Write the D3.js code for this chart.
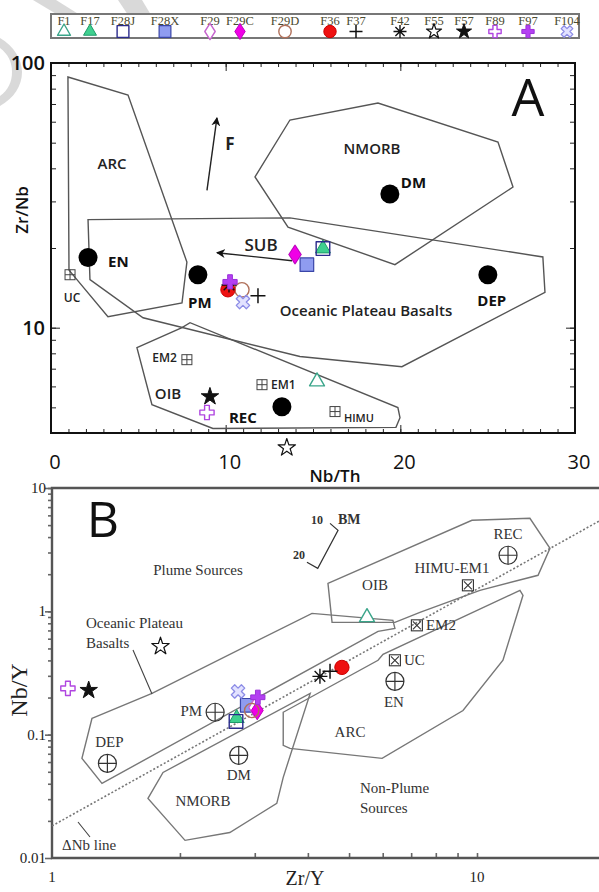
<!DOCTYPE html>
<html>
<head>
<meta charset="utf-8">
<script src="https://cdn.jsdelivr.net/npm/d3@7"></script>
<style>
  body { margin: 0; background: #fff; }
  svg { display: block; }
  .sans { font-family: "Open Sans", "Liberation Sans", sans-serif; }
  .serif { font-family: "Liberation Serif", "DejaVu Serif", serif; }
</style>
</head>
<body>
<svg id="chart" width="599" height="892"></svg>
<script>
// ---------------- sample data ----------------
const sampleIds = ["F1","F17","F28J","F28X","F29","F29C","F29D","F36","F37","F42","F55","F57","F89","F97","F104"];
// Panel A: Nb/Th vs Zr/Nb
const nbTh = [15.23, 15.57, 15.57, 14.65, 13.97, 13.97, 10.93, 10.13, 11.85, 10.19, 13.5, 9.10, 8.93, 10.25, 10.99];
const zrNb = [6.26, 19.9, 19.9, 17.3, 18.9, 18.9, 13.9, 13.9, 13.2, 14.5, 3.52, 5.49, 4.78, 14.9, 12.5];
// Panel B: Zr/Y vs Nb/Y
const zrY = [5.51, 2.72, 2.71, 2.88, 3.0, 3.04, 2.95, 4.81, 4.51, 4.27, 1.80, 1.22, 1.09, 3.05, 2.74];
const nbY = [0.894, 0.136, 0.128, 0.173, 0.166, 0.157, 0.157, 0.351, 0.326, 0.297, 0.520, 0.229, 0.2375, 0.201, 0.224];

// mantle / crust reservoirs, panel A
const resA = ["EN","PM","DM","DEP","REC"];
const resANbTh = [2.12, 8.41, 19.40, 25.01, 13.22];
const resAZrNb = [18.4, 15.85, 32.0, 15.85, 5.03];
const compA = ["UC","EM2","EM1","HIMU"];
const compANbTh = [1.09, 7.78, 12.08, 16.26];
const compAZrNb = [15.85, 7.57, 6.09, 4.82];

// reservoirs, panel B
const resB = ["PM","DEP","DM","EN","REC"];
const resBZrY = [2.42, 1.35, 2.75, 6.41, 11.83];
const resBNbY = [0.152, 0.0585, 0.068, 0.2706, 2.85];
const compB = ["UC","EM2","HIMU-EM1"];
const compBZrY = [6.41, 7.22, 9.52];
const compBNbY = [0.401, 0.77, 1.625];

// field outlines, panel A  [Nb/Th, Zr/Nb]
const fieldArcA = [[0.97,88.5],[4.41,75.7],[7.78,17.7],[7.50,12.4],[3.26,11.0],[1.03,16.5]];
const fieldOpbA = [[2.12,25.6],[13.68,26.0],[28.16,18.5],[28.28,13.6],[20.09,7.12],[14.25,7.78],[5.27,10.9],[2.23,15.2]];
const fieldOibA = [[4.92,8.4],[7.50,10.0],[7.96,10.44],[19.86,4.99],[19.98,4.57],[19.75,4.2],[9.27,4.16],[5.78,5.12]];
const fieldMorbA = [[11.68,37.1],[13.68,60.9],[18.72,70.6],[25.59,50.3],[26.45,34.0],[19.69,17.3],[13.57,24.0]];
const arrowF = [[8.93,33.0],[9.50,62.0]];
const arrowSub = [[13.8,17.9],[9.5,19.2]];

// field outlines, panel B  [Zr/Y, Nb/Y]
const fieldOpbB = [[1.242,0.1356],[1.719,0.2163],[4.09,0.963],[6.34,0.845],[6.41,0.728],[5.85,0.688],[1.311,0.0403],[1.176,0.0643]];
const fieldOibB = [[4.46,1.687],[9.73,5.47],[13.32,5.68],[14.85,3.24],[13.92,1.96],[10.16,1.48],[7.34,0.981],[6.41,0.814],[4.56,0.814]];
const fieldArcB = [[3.50,0.152],[5.85,0.401],[6.01,0.448],[12.62,1.48],[12.83,1.35],[11.51,0.401],[9.27,0.157],[5.98,0.0643],[3.63,0.0774],[3.50,0.0819]];
const fieldMorbB = [[1.682,0.0304],[1.825,0.0494],[4.05,0.2163],[3.50,0.0451],[3.38,0.0277],[2.62,0.0161],[2.056,0.0139]];
const nbLine = [[1, 0.0182],[20, 5.73]];
const bmVector = [[4.51,5.17],[4.71,4.54],[4.22,2.23],[3.98,2.50]];

// ---------------- marker styles ----------------
const styles = {
  F1:  {shape:"triangle", fill:"#ffffff", stroke:"#3aa58a", sw:1.4},
  F17: {shape:"triangle", fill:"#3fd08f", stroke:"#1f9a6a", sw:1},
  F28J:{shape:"square",   fill:"none",    stroke:"#2b2b8c", sw:1.4},
  F28X:{shape:"square",   fill:"#8f9cf0", stroke:"#3a46a8", sw:1.2},
  F29: {shape:"diamond",  fill:"#ffffff", stroke:"#c765cf", sw:1.4},
  F29C:{shape:"diamond",  fill:"#f000e6", stroke:"#c000c0", sw:1},
  F29D:{shape:"circle",   fill:"none",    stroke:"#b0705a", sw:1.4},
  F36: {shape:"circle",   fill:"#ee1111", stroke:"#cc0000", sw:1},
  F37: {shape:"plus",     fill:"none",    stroke:"#111", sw:1.5},
  F42: {shape:"asterisk", fill:"none",    stroke:"#111", sw:1.4},
  F55: {shape:"star",     fill:"#ffffff", stroke:"#111", sw:1.2},
  F57: {shape:"star",     fill:"#111",    stroke:"#111", sw:1},
  F89: {shape:"cross",    fill:"#ffffff", stroke:"#b046e0", sw:1.4},
  F97: {shape:"cross",    fill:"#b440f2", stroke:"#9a30d8", sw:1},
  F104:{shape:"xcross",   fill:"#e2e2ff", stroke:"#8c8ce6", sw:1.3}
};

function shapePath(shape, s) {
  switch (shape) {
    case "triangle": return d3.symbol(d3.symbolTriangle, s * s * 0.43)();
    case "square":   return d3.symbol(d3.symbolSquare, s * s * 0.82)();
    case "diamond":  return `M0,${-s*0.62}L${s*0.4},0L0,${s*0.62}L${-s*0.4},0Z`;
    case "circle":   return d3.symbol(d3.symbolCircle, Math.PI * s * s / 4.4)();
    case "plus":     return `M${-s/2},0H${s/2}M0,${-s/2}V${s/2}`;
    case "asterisk": {
      let p = "";
      for (let k = 0; k < 4; k++) {
        const a = k * Math.PI / 4, r = s / 2;
        p += `M${-r*Math.cos(a)},${-r*Math.sin(a)}L${r*Math.cos(a)},${r*Math.sin(a)}`;
      }
      return p;
    }
    case "star":     return d3.symbol(d3.symbolStar, s * s * 0.42)();
    case "cross":
    case "xcross":   return d3.symbol(d3.symbolCross, s * s * 0.5)();
  }
}

function drawMarker(g, id, x, y, s) {
  const st = styles[id];
  g.append("path")
    .attr("d", shapePath(st.shape, s))
    .attr("transform", `translate(${x},${y})` + (st.shape === "xcross" ? " rotate(45)" : ""))
    .attr("fill", st.fill)
    .attr("stroke", st.stroke)
    .attr("stroke-width", st.sw)
    .attr("stroke-linejoin", "round");
}

const svg = d3.select("#chart");

// faint diagonal watermark strokes along the top edge
const wm = svg.append("g").attr("fill", "#d9d9d9");
wm.append("path").attr("d", "M33,0L56,0L80,15L58,15Z");
wm.append("path").attr("d", "M118,0L142,0L151,15L128,15Z");
wm.append("path").attr("d", "M0,38C14,46 22,60 22,72C22,86 14,98 0,106L0,96C8,90 12,82 12,72C12,62 8,54 0,48Z");

// ---------------- legend ----------------
const legX = [64, 90, 123, 165, 210, 240, 285, 330, 356, 400, 434, 464, 495, 528, 567];
const legend = svg.append("g");
legend.append("rect").attr("x", 51).attr("y", 14).attr("width", 528).attr("height", 24)
  .attr("fill", "#fff").attr("stroke", "#777").attr("stroke-width", 2);
sampleIds.forEach((id, i) => {
  legend.append("text").attr("class", "serif")
    .attr("x", legX[i]).attr("y", 24.5).attr("text-anchor", "middle")
    .attr("font-size", 12.5).attr("fill", "#4a4a30").text(id);
  drawMarker(legend, id, legX[i], 31.5, 13);
});

// ================= PANEL A =================
const xA = d3.scaleLinear().domain([0, 30]).range([51, 575]);
const yA = d3.scaleLog().domain([4, 100]).range([433, 63]);
const gA = svg.append("g");
const lineA = d3.line().x(d => xA(d[0])).y(d => yA(d[1]));

// ticks (inward on all four sides)
const xTicksA = d3.range(0, 31);
const yTicksA = [4,5,6,7,8,9,10,20,30,40,50,60,70,80,90,100];
function styleAxis(g) {
  g.select(".domain").remove();
  g.selectAll("line").attr("stroke", "#222").attr("stroke-width", 1);
  g.selectAll("text").remove();
}
gA.append("g").attr("transform", "translate(0,433)")
  .call(d3.axisBottom(xA).tickValues(xTicksA).tickSize(-4)).call(styleAxis);
gA.append("g").attr("transform", "translate(0,63)")
  .call(d3.axisTop(xA).tickValues(xTicksA).tickSize(-4)).call(styleAxis);
gA.append("g").attr("transform", "translate(0,433)")
  .call(d3.axisBottom(xA).tickValues([0,10,20,30]).tickSize(-8)).call(styleAxis);
gA.append("g").attr("transform", "translate(0,63)")
  .call(d3.axisTop(xA).tickValues([0,10,20,30]).tickSize(-8)).call(styleAxis);
gA.append("g").attr("transform", "translate(51,0)")
  .call(d3.axisLeft(yA).tickValues(yTicksA).tickSize(-5)).call(styleAxis);
gA.append("g").attr("transform", "translate(575,0)")
  .call(d3.axisRight(yA).tickValues(yTicksA).tickSize(-5)).call(styleAxis);
gA.append("g").attr("transform", "translate(51,0)")
  .call(d3.axisLeft(yA).tickValues([10,100]).tickSize(-9)).call(styleAxis);
gA.append("g").attr("transform", "translate(575,0)")
  .call(d3.axisRight(yA).tickValues([10,100]).tickSize(-9)).call(styleAxis);

gA.append("rect").attr("x", xA(0)).attr("y", yA(100))
  .attr("width", xA(30) - xA(0)).attr("height", yA(4) - yA(100))
  .attr("fill", "none").attr("stroke", "#111").attr("stroke-width", 2);

// tick labels
[0, 10, 20, 30].forEach(v => {
  gA.append("text").attr("class", "sans").attr("x", xA(v) + 4).attr("y", 469)
    .attr("text-anchor", "middle").attr("font-size", 20).attr("font-weight", 500)
    .attr("fill", "#111").text(v);
});
[[100, "100"], [10, "10"]].forEach(([v, t]) => {
  gA.append("text").attr("class", "sans").attr("x", 45).attr("y", yA(v) + 7)
    .attr("text-anchor", "end").attr("font-size", 20).attr("font-weight", 600)
    .attr("fill", "#111").text(t);
});
gA.append("text").attr("class", "sans").attr("x", 335).attr("y", 482)
  .attr("text-anchor", "middle").attr("font-size", 17).attr("font-weight", 600)
  .attr("fill", "#111").text("Nb/Th");
gA.append("text").attr("class", "sans").attr("transform", "translate(28,210) rotate(-90)")
  .attr("text-anchor", "middle").attr("font-size", 17).attr("font-weight", 600)
  .attr("fill", "#111").text("Zr/Nb");
gA.append("text").attr("class", "sans").attr("x", 528).attr("y", 116)
  .attr("text-anchor", "middle").attr("font-size", 52).attr("fill", "#111").text("A");

// fields
[fieldArcA, fieldOpbA, fieldOibA, fieldMorbA].forEach(f => {
  gA.append("path").attr("d", lineA(f) + "Z")
    .attr("fill", "none").attr("stroke", "#555").attr("stroke-width", 1.4);
});

// arrows
const defs = svg.append("defs");
defs.append("marker").attr("id", "ah").attr("viewBox", "0 0 10 10")
  .attr("refX", 9).attr("refY", 5).attr("markerWidth", 9).attr("markerHeight", 9)
  .attr("orient", "auto-start-reverse").attr("markerUnits", "userSpaceOnUse")
  .append("path").attr("d", "M0,0L10,5L0,10L3,5Z").attr("fill", "#111");
[arrowF, arrowSub].forEach(a => {
  gA.append("path").attr("d", lineA(a)).attr("stroke", "#222").attr("stroke-width", 1.4)
    .attr("fill", "none").attr("marker-end", "url(#ah)");
});

// field labels
const fieldLabA = [
  ["ARC", 112, 169], ["NMORB", 372, 154], ["Oceanic Plateau Basalts", 366, 316],
  ["OIB", 168, 399], ["F", 230, 150], ["SUB", 261, 251]
];
fieldLabA.forEach(([t, x, y]) => {
  gA.append("text").attr("class", "sans").attr("x", x).attr("y", y).attr("text-anchor", "middle")
    .attr("font-size", t === "F" || t === "SUB" ? 17 : 15).attr("font-weight", t === "F" ? 700 : 600)
    .attr("fill", "#222").text(t);
});

// reservoirs (black dots)
const resALab = [[20, 9, "start"], [2, 33, "middle"], [11, -6, "start"], [4, 31, "middle"], [-39, 16, "middle"]];
resA.forEach((n, i) => {
  const cx = xA(resANbTh[i]), cy = yA(resAZrNb[i]);
  gA.append("circle").attr("cx", cx).attr("cy", cy).attr("r", 9.5).attr("fill", "#000");
  gA.append("text").attr("class", "sans").attr("x", cx + resALab[i][0]).attr("y", cy + resALab[i][1])
    .attr("text-anchor", resALab[i][2]).attr("font-size", 15).attr("font-weight", 700)
    .attr("fill", "#111").text(n);
});
// boxed-plus reservoir components
const compALab = [[2, 27, "middle", 12], [-10, 2, "end", 12], [9, 4, "start", 12], [9, 10, "start", 11]];
compA.forEach((n, i) => {
  const cx = xA(compANbTh[i]), cy = yA(compAZrNb[i]);
  const g = gA.append("g").attr("transform", `translate(${cx},${cy})`)
    .attr("stroke", "#444").attr("stroke-width", 1).attr("fill", "none");
  g.append("rect").attr("x", -5).attr("y", -5).attr("width", 10).attr("height", 10);
  g.append("path").attr("d", "M-5,0H5M0,-5V5");
  gA.append("text").attr("class", "sans").attr("x", cx + compALab[i][0]).attr("y", cy + compALab[i][1])
    .attr("text-anchor", compALab[i][2]).attr("font-size", compALab[i][3]).attr("font-weight", 600)
    .attr("fill", "#222").text(n);
});

// samples
sampleIds.forEach((id, i) => drawMarker(gA, id, xA(nbTh[i]), yA(zrNb[i]), 15));

// ================= PANEL B =================
const xB = d3.scaleLog().domain([1, 10]).range([52, 477]);
const yB = d3.scaleLog().domain([0.01, 10]).range([858, 488]);
const gB = svg.append("g");
const lineB = d3.line().x(d => xB(d[0])).y(d => yB(d[1]));

const xTicksB = [2,3,4,5,6,7,8,9,10,20];
const yTicksB = [0.02,0.03,0.04,0.05,0.06,0.07,0.08,0.09,0.1,0.2,0.3,0.4,0.5,0.6,0.7,0.8,0.9,1,2,3,4,5,6,7,8,9,10];
function styleAxisB(g) {
  g.select(".domain").remove();
  g.selectAll("line").attr("stroke", "#666").attr("stroke-width", 1.6);
  g.selectAll("text").remove();
}
gB.append("g").attr("transform", "translate(0,858)")
  .call(d3.axisBottom(xB).tickValues(xTicksB).tickSize(-5)).call(styleAxisB);
gB.append("g").attr("transform", "translate(52,0)")
  .call(d3.axisLeft(yB).tickValues(yTicksB).tickSize(4)).call(styleAxisB);
gB.append("g").attr("transform", "translate(52,0)")
  .call(d3.axisLeft(yB).tickValues([0.01,0.1,1,10]).tickSize(7)).call(styleAxisB);

gB.append("path").attr("d", `M599,${yB(10)}H${xB(1)}V${yB(0.01)}H599`)
  .attr("fill", "none").attr("stroke", "#555").attr("stroke-width", 2.4);

[[10, "10"], [1, "1"], [0.1, "0.1"], [0.01, "0.01"]].forEach(([v, t]) => {
  gB.append("text").attr("class", "serif").attr("x", 46).attr("y", yB(v) + 5)
    .attr("text-anchor", "end").attr("font-size", 15).attr("fill", "#222").text(t);
});
[[1, "1"], [10, "10"]].forEach(([v, t]) => {
  gB.append("text").attr("class", "serif").attr("x", xB(v)).attr("y", 882)
    .attr("text-anchor", "middle").attr("font-size", 15).attr("fill", "#222").text(t);
});
gB.append("text").attr("class", "serif").attr("x", 305).attr("y", 885)
  .attr("text-anchor", "middle").attr("font-size", 20).attr("fill", "#222").text("Zr/Y");
gB.append("text").attr("class", "serif").attr("transform", "translate(27,690) rotate(-90)")
  .attr("text-anchor", "middle").attr("font-size", 24).attr("fill", "#222").text("Nb/Y");
gB.append("text").attr("class", "sans").attr("x", 103).attr("y", 537)
  .attr("text-anchor", "middle").attr("font-size", 50).attr("fill", "#111").text("B");

// fields
[fieldOpbB, fieldOibB, fieldArcB, fieldMorbB].forEach(f => {
  gB.append("path").attr("d", lineB(f) + "Z")
    .attr("fill", "none").attr("stroke", "#777").attr("stroke-width", 1.4);
});
// delta-Nb reference line
gB.append("path").attr("d", lineB(nbLine)).attr("fill", "none")
  .attr("stroke", "#777").attr("stroke-width", 1.6).attr("stroke-dasharray", "2,2");
// melting vector
gB.append("path").attr("d", lineB(bmVector)).attr("fill", "none")
  .attr("stroke", "#333").attr("stroke-width", 1.2);

const textB = [
  ["Plume Sources", 198, 575, "middle", 15],
  ["Oceanic Plateau", 86, 628, "start", 15],
  ["Basalts", 86, 648, "start", 15],
  ["OIB", 375, 590, "middle", 15],
  ["ARC", 350, 737, "middle", 15],
  ["NMORB", 203, 806, "middle", 15],
  ["Non-Plume", 360, 793, "start", 15],
  ["Sources", 360, 813, "start", 15],
  ["\u0394Nb line", 62, 850, "start", 15],
  ["10", 323, 524, "end", 12],
  ["BM", 338, 524, "start", 14],
  ["20", 305, 559, "end", 12]
];
textB.forEach(([t, x, y, a, fs]) => {
  gB.append("text").attr("class", "serif").attr("x", x).attr("y", y).attr("text-anchor", a)
    .attr("font-size", fs).attr("font-weight", t === "BM" || t === "10" || t === "20" ? 700 : 400)
    .attr("fill", "#333").text(t);
});
// leader lines
gB.append("path").attr("d", "M133,650L152,694M78,822L90,837").attr("stroke", "#444").attr("stroke-width", 1.1);

// reservoirs: circled-plus
const resBLab = [[-13, 4, "end"], [2, -16, "middle"], [0, 25, "middle"], [-1, 26, "middle"], [0, -16, "middle"]];
resB.forEach((n, i) => {
  const cx = xB(resBZrY[i]), cy = yB(resBNbY[i]);
  const g = gB.append("g").attr("transform", `translate(${cx},${cy})`)
    .attr("stroke", "#333").attr("stroke-width", 1.2).attr("fill", "none");
  g.append("circle").attr("r", 9);
  g.append("path").attr("d", "M-9,0H9M0,-9V9");
  gB.append("text").attr("class", "serif").attr("x", cx + resBLab[i][0]).attr("y", cy + resBLab[i][1])
    .attr("text-anchor", resBLab[i][2]).attr("font-size", 15).attr("fill", "#333").text(n);
});
// boxed-x components
const compBLab = [[9, 5, "start"], [9, 5, "start"], [-16, -12, "middle"]];
compB.forEach((n, i) => {
  const cx = xB(compBZrY[i]), cy = yB(compBNbY[i]);
  const g = gB.append("g").attr("transform", `translate(${cx},${cy})`)
    .attr("stroke", "#333").attr("stroke-width", 1.1).attr("fill", "none");
  g.append("rect").attr("x", -5.5).attr("y", -5.5).attr("width", 11).attr("height", 11);
  g.append("path").attr("d", "M-4,-4L4,4M4,-4L-4,4");
  gB.append("text").attr("class", "serif").attr("x", cx + compBLab[i][0]).attr("y", cy + compBLab[i][1])
    .attr("text-anchor", compBLab[i][2]).attr("font-size", 15).attr("fill", "#333").text(n);
});

// samples
sampleIds.forEach((id, i) => drawMarker(gB, id, xB(zrY[i]), yB(nbY[i]), 15));
</script>
</body>
</html>
